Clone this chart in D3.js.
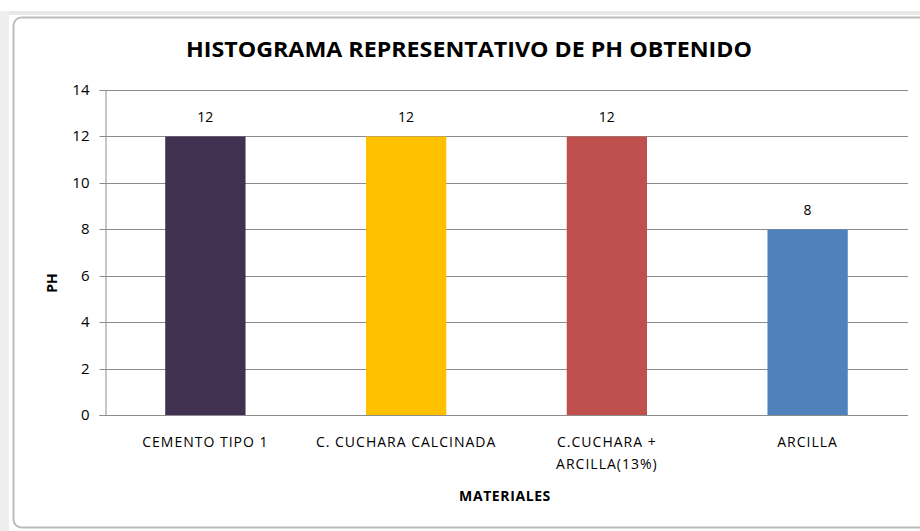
<!DOCTYPE html>
<html>
<head>
<meta charset="utf-8">
<script src="https://cdn.jsdelivr.net/npm/d3@7"></script>
<style>
  body { margin: 0; background: #fff; }
  text { font-family: "Open Sans", "DejaVu Sans", sans-serif; }
</style>
</head>
<body>
<svg id="chart" width="920" height="531"></svg>
<script>
const materiales = ["CEMENTO TIPO 1", "C. CUCHARA CALCINADA", "C.CUCHARA +|ARCILLA(13%)", "ARCILLA"];
const phValues = [12, 12, 12, 8];
const barColors = ["#403151", "#FFC000", "#C0504D", "#4F81BD"];
const yTicks = [0, 2, 4, 6, 8, 10, 12, 14];

let svg = d3.select("#chart");

// spreadsheet background bits
svg.append("rect").attr("x", 0).attr("y", 11).attr("width", 920).attr("height", 4).attr("fill", "#e8e8e8");
svg.append("rect").attr("x", 0).attr("y", 11).attr("width", 9).attr("height", 520).attr("fill", "#eeeeee");

// chart frame
svg.append("rect")
    .attr("x", 13.5).attr("y", 17.5)
    .attr("width", 940).attr("height", 510)
    .attr("rx", 8).attr("ry", 8)
    .attr("fill", "#fff")
    .attr("stroke", "#bcbcbc")
    .attr("stroke-width", 2);

let margin = {left: 105, right: 908, top: 90, bottom: 415};

let x = d3.scaleBand().domain(materiales).range([margin.left, margin.right]).paddingInner(0.6).paddingOuter(0.3);
let y = d3.scaleLinear().domain([0, 14]).range([margin.bottom, margin.top]);

// gridlines
svg.append("g")
    .selectAll("line")
    .data(yTicks.filter(t => t > 0))
    .join("line")
    .attr("x1", margin.left).attr("x2", margin.right)
    .attr("y1", d => Math.round(y(d)) + 0.5).attr("y2", d => Math.round(y(d)) + 0.5)
    .attr("stroke", "#8c8c8c");

// bars
svg.append("g")
    .selectAll("rect")
    .data(phValues)
    .join("rect")
    .attr("x", (d, i) => x(materiales[i]))
    .attr("y", d => Math.round(y(d)) + 0.5)
    .attr("width", x.bandwidth())
    .attr("height", d => y(0) - Math.round(y(d)) - 0.5)
    .attr("fill", (d, i) => barColors[i]);

// data labels
svg.append("g")
    .selectAll("text")
    .data(phValues)
    .join("text")
    .attr("x", (d, i) => x(materiales[i]) + x.bandwidth() / 2)
    .attr("y", d => y(d) - 14)
    .attr("text-anchor", "middle")
    .attr("font-size", 14)
    .attr("fill", "#000")
    .text(d => d);

// y axis
let yAxis = svg.append("g")
    .attr("transform", `translate(${margin.left + 0.5},0)`)
    .call(d3.axisLeft(y).tickValues(yTicks).tickSize(6).tickPadding(10));
yAxis.selectAll("line, path").attr("stroke", "#8c8c8c");
yAxis.selectAll("text").attr("font-size", 15).attr("fill", "#000");
yAxis.selectAll(".tick").attr("transform", d => `translate(0,${Math.round(y(d)) + 0.5})`);

// x axis line
svg.append("line")
    .attr("x1", margin.left).attr("x2", margin.right)
    .attr("y1", y(0) + 0.5).attr("y2", y(0) + 0.5)
    .attr("stroke", "#8c8c8c");

// x labels
let xl = svg.append("g")
    .selectAll("text")
    .data(materiales)
    .join("text")
    .attr("x", d => x(d) + x.bandwidth() / 2)
    .attr("y", 447)
    .attr("text-anchor", "middle")
    .attr("font-size", 14)
    .attr("letter-spacing", 1)
    .attr("fill", "#000");
xl.each(function(d){
    let parts = d.split("|");
    let t = d3.select(this);
    parts.forEach((p, i) => {
        t.append("tspan").attr("x", t.attr("x")).attr("dy", i == 0 ? 0 : 22).text(p);
    });
});

// title
svg.append("text")
    .attr("x", 469).attr("y", 57)
    .attr("text-anchor", "middle")
    .attr("font-size", 21)
    .attr("font-weight", "bold")
    .attr("textLength", 566)
    .attr("lengthAdjust", "spacingAndGlyphs")
    .text("HISTOGRAMA REPRESENTATIVO DE PH OBTENIDO");

// axis titles
svg.append("text")
    .attr("transform", "translate(57,283) rotate(-90)")
    .attr("text-anchor", "middle")
    .attr("font-size", 14)
    .attr("font-weight", "bold")
    .text("PH");

svg.append("text")
    .attr("x", 505).attr("y", 501)
    .attr("text-anchor", "middle")
    .attr("font-size", 14)
    .attr("letter-spacing", 0.6)
    .attr("font-weight", "bold")
    .text("MATERIALES");
</script>
</body>
</html>
